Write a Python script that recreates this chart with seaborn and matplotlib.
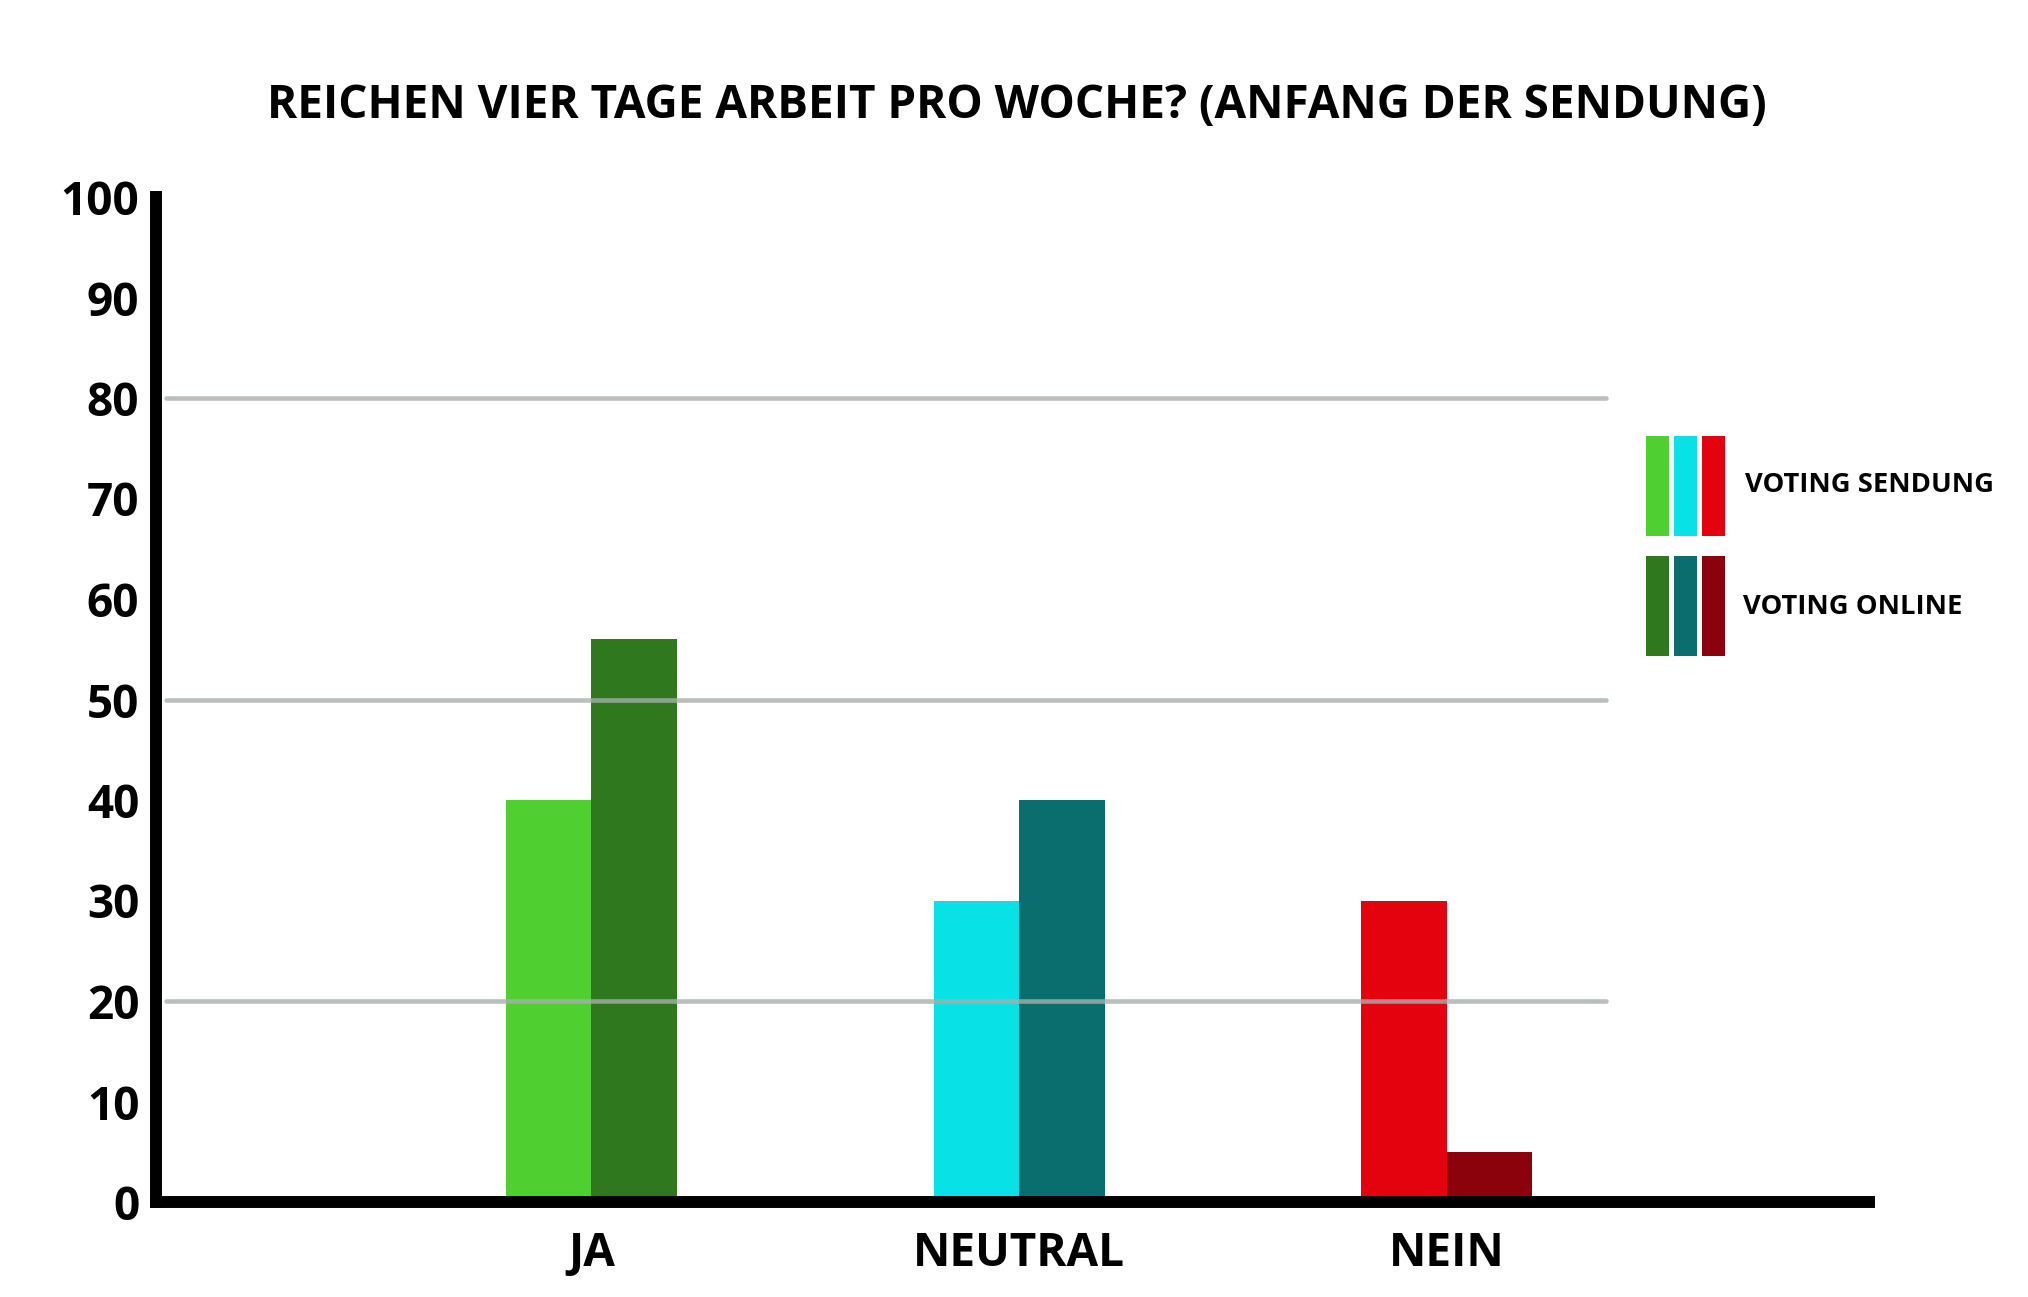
import matplotlib
matplotlib.use("Agg")
import matplotlib.pyplot as plt
from matplotlib.patches import Rectangle
import seaborn as sns
import pandas as pd

# ---- data ----
categories = ["JA", "NEUTRAL", "NEIN"]
sources = ["VOTING SENDUNG", "VOTING ONLINE"]
sendung_values = [40, 30, 30]
online_values = [56, 40, 5]
y_ticks = [0, 10, 20, 30, 40, 50, 60, 70, 80, 90, 100]
grid_values = [20, 50, 80]
title = "REICHEN VIER TAGE ARBEIT PRO WOCHE? (ANFANG DER SENDUNG)"

sendung_colors = ["#50CF30", "#08E2E6", "#E3020E"]
online_colors = ["#30781E", "#0A6E6E", "#8C020C"]

df = pd.DataFrame({
    "answer": categories * 2,
    "source": [sources[0]] * 3 + [sources[1]] * 3,
    "value": sendung_values + online_values,
})

sns.set_theme(style="white")
plt.rcParams["font.family"] = ["Open Sans", "DejaVu Sans"]
plt.rcParams["font.weight"] = "bold"

W, H = 2028, 1297
fig = plt.figure(figsize=(W / 100, H / 100), dpi=100)
ax_left, ax_right = 156 / W, 1869 / W
ax_bottom, ax_top = 1 - 1202 / H, 1 - 197 / H
ax = fig.add_axes([ax_left, ax_bottom, ax_right - ax_left, ax_top - ax_bottom])

sns.barplot(data=df, x="answer", y="value", hue="source", order=categories,
            hue_order=sources, width=0.4, dodge=True, ax=ax, legend=False,
            saturation=1, linewidth=0, zorder=2)

for cont, cols in zip(ax.containers, [sendung_colors, online_colors]):
    for bar, c in zip(cont, cols):
        bar.set_facecolor(c)
        bar.set_edgecolor("none")

ax.set_xlim(-1.018, 2.987)
ax.set_ylim(0, 100)
ax.set_yticks(y_ticks)
ax.set_yticklabels([str(v) for v in y_ticks])
ax.set_xlabel("")
ax.set_ylabel("")

span = 1869 - 156
for g in grid_values:
    ax.axhline(g, xmin=(166 - 156) / span, xmax=(1606 - 156) / span,
               color="#A7AFAB", alpha=0.8, lw=3.3, zorder=3)

for s in ["top", "right"]:
    ax.spines[s].set_visible(False)
for s in ["left", "bottom"]:
    ax.spines[s].set_visible(True)
    ax.spines[s].set_color("black")
    ax.spines[s].set_linewidth(8.6)
    ax.spines[s].set_capstyle("projecting")

ax.tick_params(axis="both", length=0, labelsize=33, colors="black")
ax.tick_params(axis="y", pad=12)
ax.tick_params(axis="x", pad=20)
for lab in ax.get_xticklabels() + ax.get_yticklabels():
    lab.set_fontweight("bold")

fig.text(1017 / W, 1 - 106 / H, title, ha="center", va="center",
         fontsize=33, fontweight="bold", color="black")

# legend (custom swatches)
sw_x = [1646, 1674, 1702]
rows = [(436, 536, sendung_colors, sources[0], 1745, 485),
        (556, 656, online_colors, sources[1], 1743, 607)]
for top, bot, cols, lbl, tx, ty in rows:
    for x0, c in zip(sw_x, cols):
        fig.add_artist(Rectangle((x0 / W, 1 - bot / H), 23 / W, (bot - top) / H,
                                 transform=fig.transFigure, facecolor=c,
                                 edgecolor="none"))
    fig.text(tx / W, 1 - ty / H, lbl, ha="left", va="center", fontsize=19.7,
             fontweight="bold", color="black")

fig.savefig("out.png", dpi=100, facecolor="white")
